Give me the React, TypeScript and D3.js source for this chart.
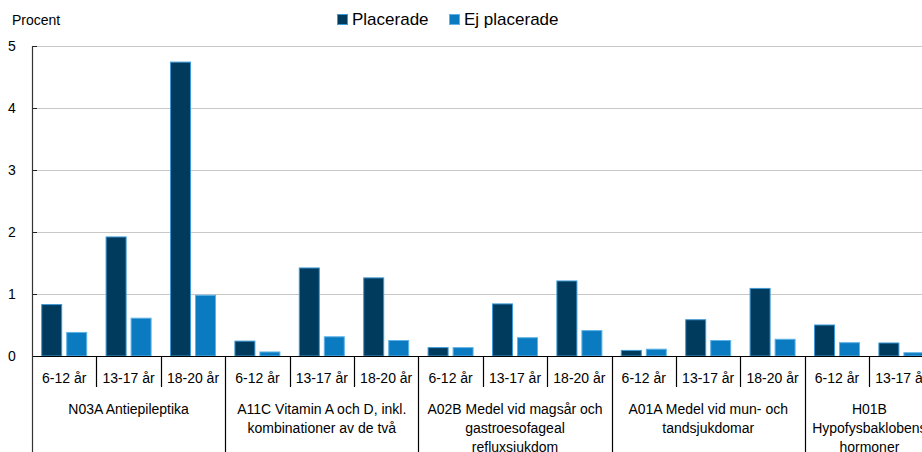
import React from "react";
import * as d3 from "d3";

const categories = [
  ["N03A Antiepileptika"],
  ["A11C Vitamin A och D, inkl.", "kombinationer av de två"],
  ["A02B Medel vid magsår och", "gastroesofageal", "refluxsjukdom"],
  ["A01A Medel vid mun- och", "tandsjukdomar"],
  ["H01B", "Hypofysbaklobens", "hormoner"],
];
const ageGroups = ["6-12 år", "13-17 år", "18-20 år"];
const seriesNames = ["Placerade", "Ej placerade"];
const placerade = [0.83, 1.92, 4.74, 0.24, 1.42, 1.26, 0.135, 0.84, 1.21, 0.09, 0.585, 1.09, 0.5, 0.21, 0.3];
const ejPlacerade = [0.38, 0.61, 0.98, 0.065, 0.31, 0.25, 0.135, 0.295, 0.41, 0.11, 0.25, 0.27, 0.215, 0.053, 0.1];
const yTicks = [0, 1, 2, 3, 4, 5];

const colors = ["#003a5d", "#0a7bc1"];
const strokes = ["#3d9ad6", "#5fb3e8"];
const FONT = "'Liberation Sans', Arial, sans-serif";

export default function App() {
  const W = 922, H = 452;
  const left = 32;
  const sub = 64.4;
  const visibleRight = 934;
  const nSub = categories.length * ageGroups.length;
  const subIds = d3.range(nSub);
  const x = d3.scaleBand<number>().domain(subIds).range([left, left + nSub * sub]);
  const xi = d3.scaleBand<number>().domain([0, 1]).range([0, sub]).paddingInner(0.16).paddingOuter(0.368);
  const y = d3.scaleLinear().domain([0, 5]).range([356, 46]);
  const series = [placerade, ejPlacerade];
  const catW = sub * ageGroups.length;

  return (
    <svg width={W} height={H} style={{ position: "absolute", left: 0, top: 0, background: "#fff" }} fontFamily={FONT}>
      <text x={12} y={25} fontSize={14} fill="#000">Procent</text>
      {seriesNames.map((n, i) => {
        const lx = [337, 449][i];
        return (
          <g key={n}>
            <rect x={lx + 0.5} y={14.5} width={10} height={10} fill={colors[i]} stroke={strokes[i]} />
            <text x={lx + 15} y={25} fontSize={17} fill="#000">{n}</text>
          </g>
        );
      })}
      {yTicks.filter(t => t > 0).map(t => (
        <line key={t} x1={left} x2={W} y1={Math.round(y(t)) + 0.5} y2={Math.round(y(t)) + 0.5} stroke="#c8c8c8" strokeWidth={1} />
      ))}
      {yTicks.map(t => (
        <g key={"yt" + t}>
          <line x1={left} x2={left + 5} y1={Math.round(y(t)) + 0.5} y2={Math.round(y(t)) + 0.5} stroke="#222" />
          <text x={12} y={y(t) + 5} fontSize={14} textAnchor="middle" fill="#000">{t}</text>
        </g>
      ))}
      {subIds.map(i => (
        <g key={"b" + i} transform={`translate(${x(i)},0)`}>
          {series.map((s, k) => (
            <rect key={k} x={(xi(k) as number) + 0.5} y={y(s[i])} width={xi.bandwidth() - 1} height={y(0) - y(s[i])}
              fill={colors[k]} stroke={strokes[k]} strokeWidth={1} />
          ))}
        </g>
      ))}
      <line x1={left} x2={W} y1={356.5} y2={356.5} stroke="#000" strokeWidth={1.2} />
      <line x1={left + 0.5} x2={left + 0.5} y1={46} y2={H} stroke="#333" strokeWidth={1.2} />
      {subIds.map(i => (
        <g key={"st" + i}>
          {i % 3 !== 0 && (
            <line x1={Math.round(x(i) as number) + 0.5} x2={Math.round(x(i) as number) + 0.5} y1={356} y2={387} stroke="#000" strokeWidth={1.2} />
          )}
          <text x={(x(i) as number) + sub / 2} y={383} fontSize={14} textAnchor="middle" fill="#000">{ageGroups[i % 3]}</text>
        </g>
      ))}
      {categories.map((c, ci) => {
        const cx = left + ci * catW;
        const cr = Math.min(cx + catW, visibleRight);
        return (
          <g key={"c" + ci}>
            {ci > 0 && <line x1={Math.round(cx) + 0.5} x2={Math.round(cx) + 0.5} y1={356} y2={H} stroke="#000" strokeWidth={1.2} />}
            {c.map((ln, li) => (
              <text key={li} x={(cx + cr) / 2} y={414 + li * 19} fontSize={14} textAnchor="middle" fill="#000">{ln}</text>
            ))}
          </g>
        );
      })}
    </svg>
  );
}
